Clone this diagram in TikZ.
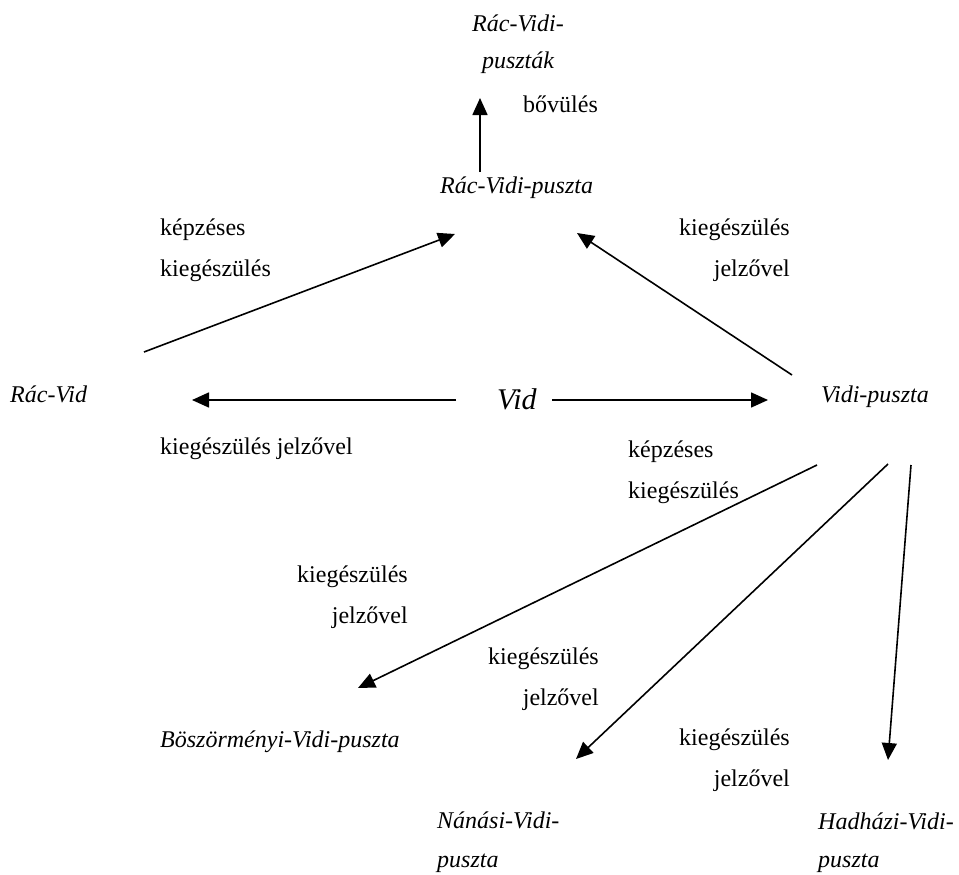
\documentclass[tikz,border=0pt]{standalone}
\usepackage{fontspec}
\setmainfont{Liberation Serif}
\usetikzlibrary{arrows.meta}
\begin{document}
\begin{tikzpicture}[x=1pt,y=-1pt,
  lbl/.style={inner sep=0pt, font=\fontsize{24}{41}\selectfont},
  nm/.style={inner sep=0pt, font=\fontsize{24}{41}\selectfont\itshape},
  conn/.style={line width=1.6pt, -{Triangle[length=17pt,width=15pt]}}]
\useasboundingbox (0,0) rectangle (959,875);

% names
\node[nm, anchor=base, font=\fontsize{24}{37}\selectfont\itshape] (rvps) at (518,32) {\begin{tabular}[t]{@{}c@{}}Rác-Vidi-\\puszták\end{tabular}};
\node[nm, anchor=base west] (rvp) at (440,193) {Rác-Vidi-puszta};
\node[nm, anchor=base west] (racvid) at (10,402) {Rác-Vid};
\node[nm, anchor=base west, font=\fontsize{30}{36}\selectfont\itshape] (vid) at (497,409) {Vid};
\node[nm, anchor=base west] (vidip) at (821,402) {Vidi-puszta};
\node[nm, anchor=base west] (boszi) at (160,747) {Böszörményi-Vidi-puszta};
\node[nm, anchor=base west, font=\fontsize{24}{39}\selectfont\itshape] (nanasi) at (437,828) {\begin{tabular}[t]{@{}l@{}}Nánási-Vidi-\\puszta\end{tabular}};
\node[nm, anchor=base west, font=\fontsize{24}{38}\selectfont\itshape] (hadhazi) at (818,829) {\begin{tabular}[t]{@{}l@{}}Hadházi-Vidi-\\puszta\end{tabular}};

% labels
\node[lbl, anchor=base west] (l0) at (523,112) {bővülés};
\node[lbl, anchor=base west] (l1) at (160,235) {\begin{tabular}[t]{@{}l@{}}képzéses\\kiegészülés\end{tabular}};
\node[lbl, anchor=base east] (l2) at (790,235) {\begin{tabular}[t]{@{}r@{}}kiegészülés\\jelzővel\end{tabular}};
\node[lbl, anchor=base west] (l3) at (160,454) {kiegészülés jelzővel};
\node[lbl, anchor=base west] (l4) at (628,457) {\begin{tabular}[t]{@{}l@{}}képzéses\\kiegészülés\end{tabular}};
\node[lbl, anchor=base east] (l5) at (408,582) {\begin{tabular}[t]{@{}r@{}}kiegészülés\\jelzővel\end{tabular}};
\node[lbl, anchor=base east] (l6) at (599,664) {\begin{tabular}[t]{@{}r@{}}kiegészülés\\jelzővel\end{tabular}};
\node[lbl, anchor=base east] (l7) at (790,745) {\begin{tabular}[t]{@{}r@{}}kiegészülés\\jelzővel\end{tabular}};

% connector ends
\coordinate (racvid-out) at (144,352);
\coordinate (rvp-in-l) at (455,234);
\coordinate (rvp-out) at (480,172);
\coordinate (rvps-in) at (480,98);
\coordinate (vidip-out-up) at (792,375);
\coordinate (rvp-in-r) at (577,233);
\coordinate (vid-out-l) at (456,400);
\coordinate (racvid-in) at (192,400);
\coordinate (vid-out-r) at (552,400);
\coordinate (vidip-in) at (768,400);
\coordinate (vidip-out-1) at (817,465);
\coordinate (boszi-in) at (358,688);
\coordinate (vidip-out-2) at (888,464);
\coordinate (nanasi-in) at (576,759);
\coordinate (vidip-out-3) at (911,465);
\coordinate (hadhazi-in) at (888,760);

\draw[conn] (racvid-out) -- (rvp-in-l);
\draw[conn] (rvp-out) -- (rvps-in);
\draw[conn] (vidip-out-up) -- (rvp-in-r);
\draw[conn] (vid-out-l) -- (racvid-in);
\draw[conn] (vid-out-r) -- (vidip-in);
\draw[conn] (vidip-out-1) -- (boszi-in);
\draw[conn] (vidip-out-2) -- (nanasi-in);
\draw[conn] (vidip-out-3) -- (hadhazi-in);
\end{tikzpicture}
\end{document}
